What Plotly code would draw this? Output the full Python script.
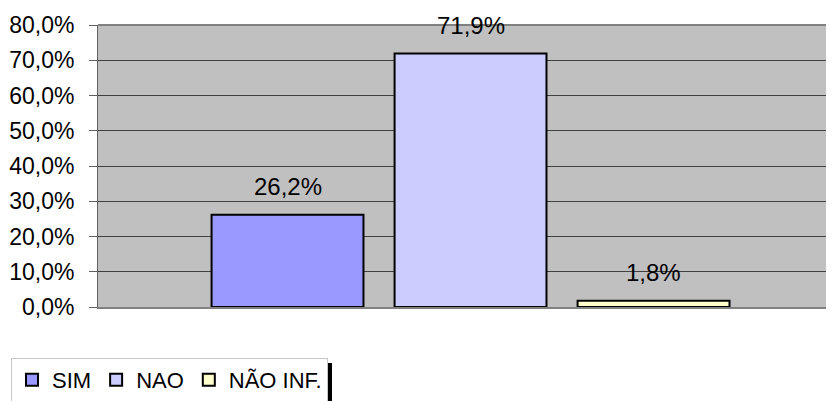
import plotly.graph_objects as go

categories = ["SIM", "NAO", "NÃO INF."]
values = [26.2, 71.9, 1.8]
labels = ["26,2%", "71,9%", "1,8%"]
colors = ["#9999FF", "#CCCCFF", "#FFFFCC"]
tick_vals = [0, 10, 20, 30, 40, 50, 60, 70, 80]
tick_text = ["0,0%", "10,0%", "20,0%", "30,0%", "40,0%", "50,0%", "60,0%", "70,0%", "80,0%"]

FONT = "Liberation Sans, Arial, sans-serif"

fig = go.Figure()
for cat, val, col in zip(categories, values, colors):
    fig.add_trace(go.Bar(
        x=[cat], y=[val], name=cat,
        marker=dict(color=col, line=dict(color="black", width=2)),
        hoverinfo="skip",
    ))

for cat, val, lab in zip(categories, values, labels):
    fig.add_annotation(x=cat, y=val, text=lab, showarrow=False,
                       yanchor="middle", yshift=28,
                       font=dict(family=FONT, size=24, color="black"))

# page body has an 8px default margin, so the figure is drawn 8px in from the window edge
fig.update_layout(
    width=826, height=393,
    margin=dict(l=90, r=0, t=17, b=94, autoexpand=False),
    paper_bgcolor="white",
    plot_bgcolor="#C0C0C0",
    barmode="overlay",
    bargap=0.17,
    font=dict(family=FONT, size=23, color="black"),
    showlegend=True,
    legend=dict(orientation="h", x=(11 - 98) / 736, y=(307 - 358) / 282,
                xanchor="left", yanchor="top",
                bgcolor="white", bordercolor="#C8C8C8", borderwidth=1,
                font=dict(family=FONT, size=22, color="black"),
                itemwidth=30, tracegroupgap=0),
    xaxis=dict(type="category", categoryorder="array", categoryarray=categories,
               range=[-1.0355, 2.986], showticklabels=False, ticks="",
               showgrid=False, zeroline=False, showline=True,
               linecolor="#808080", linewidth=2, fixedrange=True),
    yaxis=dict(range=[0, 80], tickvals=tick_vals, ticktext=tick_text,
               ticks="outside", ticklen=8, tickcolor="#606060", tickwidth=1,
               ticklabelstandoff=10,
               tickfont=dict(family=FONT, size=23, color="black"),
               showgrid=True, gridcolor="#404040", gridwidth=1,
               zeroline=False, showline=True, linecolor="#606060", linewidth=1,
               mirror=False, fixedrange=True),
    shapes=[
        dict(type="line", xref="paper", yref="paper", x0=0, x1=1, y0=1, y1=1,
             line=dict(color="#808080", width=2), layer="above"),
        dict(type="rect", xref="paper", yref="paper",
             x0=(327 - 98) / 736, x1=(332 - 98) / 736,
             y0=(307 - 401) / 282, y1=(307 - 363) / 282,
             fillcolor="black", line=dict(width=0), layer="above"),
    ],
)

fig.write_html("out.html")
